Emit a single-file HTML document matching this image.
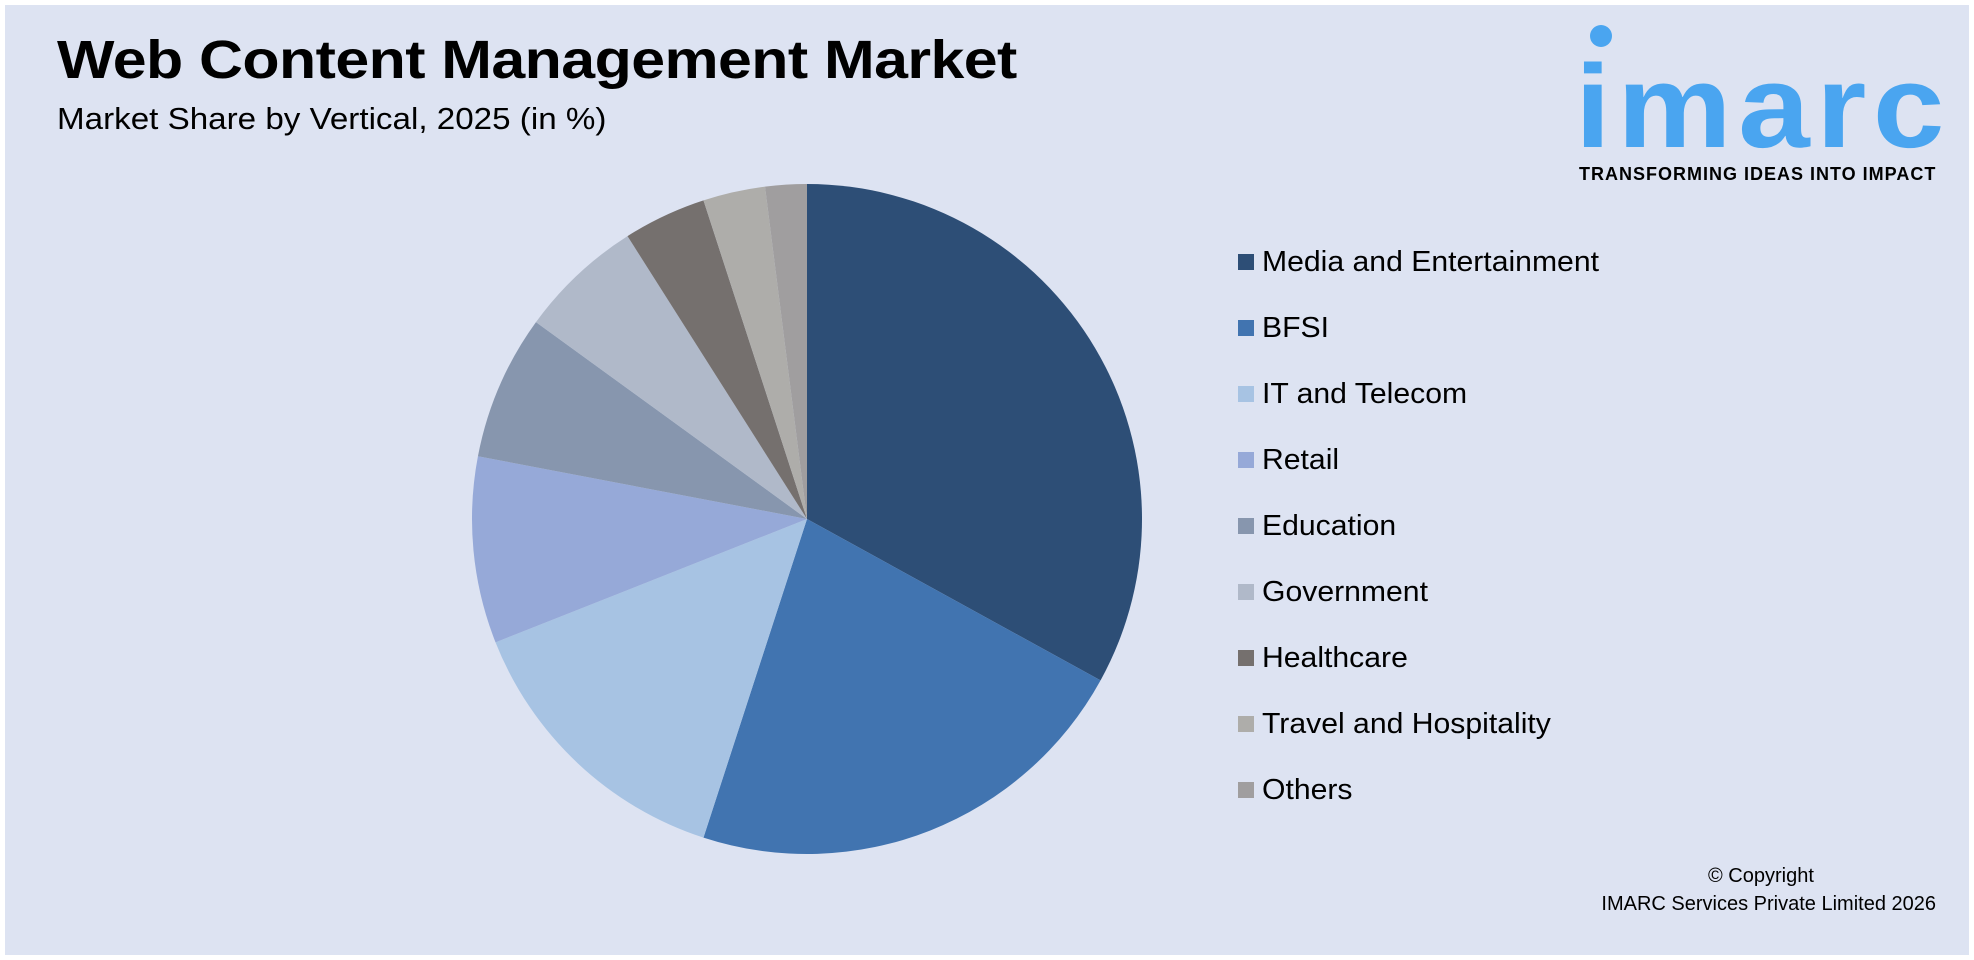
<!DOCTYPE html>
<html><head><meta charset="utf-8"><style>
html,body{margin:0;padding:0;background:#fff;}
#wrap{position:absolute;left:5px;top:5px;width:1964px;height:950px;background:#dde3f2;font-family:"Liberation Sans",sans-serif;overflow:hidden;}
.t{position:absolute;white-space:nowrap;color:#000;}
</style></head><body>
<div id="wrap">
<div class="t" style="left:52px;top:24px;font-size:54px;font-weight:bold;letter-spacing:-0.5px;transform:scaleX(1.127);transform-origin:left top;">Web Content Management Market</div>
<div class="t" style="left:52px;top:96px;font-size:31px;transform:scaleX(1.07);transform-origin:left top;">Market Share by Vertical, 2025 (in %)</div>
<div style="position:absolute;left:1570px;top:20px;width:380px;height:170px;">
 <div style="position:absolute;left:15px;top:0;width:22px;height:22px;border-radius:50%;background:#4aa5f0;"></div>
 <div class="t" style="left:0;top:26px;font-size:118px;font-weight:bold;color:#4aa5f0;letter-spacing:6px;line-height:112px;transform:scaleX(1.09);transform-origin:left top;">imarc</div>
 <div class="t" style="left:4px;top:139px;font-size:18px;font-weight:bold;letter-spacing:1px;">TRANSFORMING IDEAS INTO IMPACT</div>
</div>
<svg id="pie" width="1964" height="950" style="position:absolute;left:0;top:0;"></svg>
<div id="legend"></div>
<div class="t" style="left:1703px;top:860px;font-size:20px;">© Copyright</div>
<div class="t" style="right:33px;top:888px;font-size:20px;">IMARC Services Private Limited 2026</div>
</div>
<script>
const categories=["Media and Entertainment","BFSI","IT and Telecom","Retail","Education","Government","Healthcare","Travel and Hospitality","Others"];
const values=[33,22,14,9,7,6,4,3,2];
const colors=["#2d4e76","#4174b0","#a7c3e3","#96a9d8","#8796ae","#b0b9c9","#75706e","#aeadaa","#a09e9f"];
const svg=document.getElementById('pie');
const NS="http://www.w3.org/2000/svg";
const cx=802,cy=514,r=335;
const total=values.reduce((a,b)=>a+b,0);
function pt(a){return [cx+r*Math.sin(a),cy-r*Math.cos(a)];}
let acc=0;
values.forEach((v,i)=>{
 const a0=acc/total*2*Math.PI; acc+=v; const a1=acc/total*2*Math.PI;
 const p0=pt(a0),p1=pt(a1);
 const large=(a1-a0)>Math.PI?1:0;
 const path=document.createElementNS(NS,'path');
 path.setAttribute('d',`M${cx},${cy}L${p0[0]},${p0[1]}A${r},${r} 0 ${large} 1 ${p1[0]},${p1[1]}Z`);
 path.setAttribute('fill',colors[i]);
 
 
 svg.appendChild(path);
});
const leg=document.getElementById('legend');
categories.forEach((c,i)=>{
 const d=document.createElement('div');
 d.className='t';
 d.style.left='1233px';d.style.top=(241+i*66)+'px';d.style.fontSize='29px';
 d.innerHTML=`<span style="display:inline-block;width:16px;height:16px;background:${colors[i]};margin-right:8px;vertical-align:1px;"></span><span style="display:inline-block;transform:scaleX(1.04);transform-origin:left;">${c}</span>`;
 
 
 leg.appendChild(d);
});
</script>
</body></html>
